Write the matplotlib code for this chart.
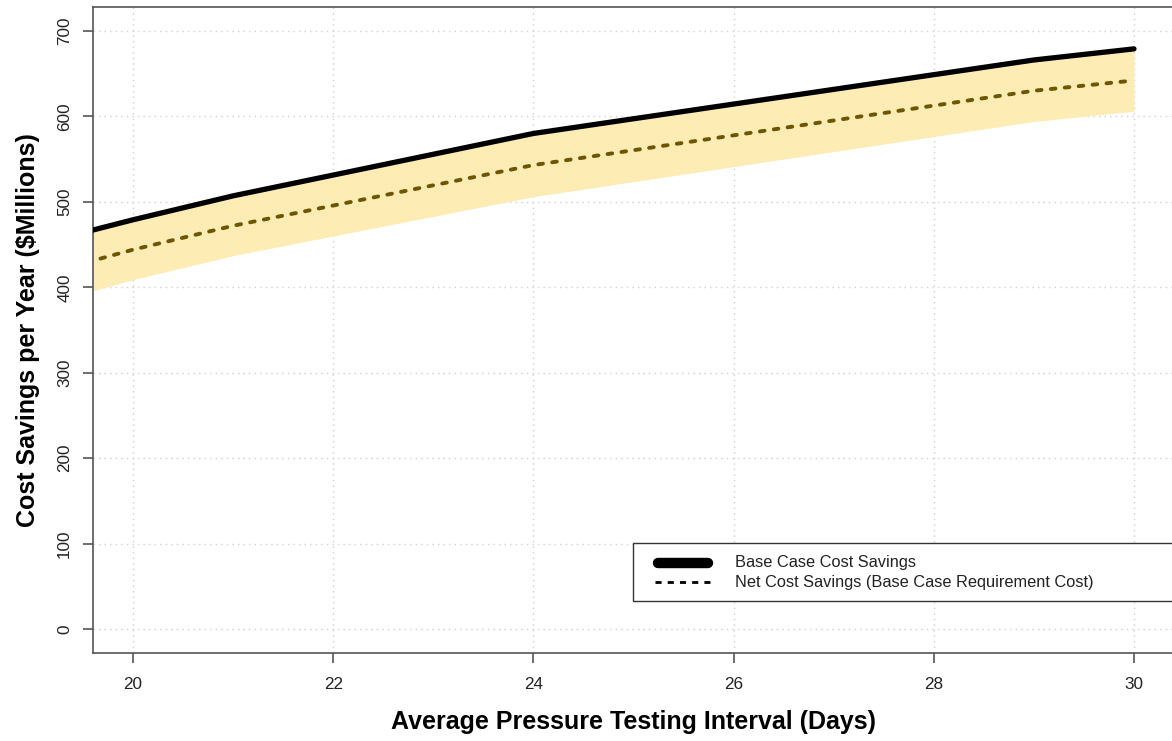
import numpy as np
import matplotlib
matplotlib.use("Agg")
import matplotlib.pyplot as plt
from matplotlib.lines import Line2D
from matplotlib.patches import Rectangle

plt.rcParams['font.family'] = ['Liberation Sans', 'DejaVu Sans']

# values
interval = [19, 20, 21, 24, 29, 30]
base_savings = [449, 479, 507, 580, 666, 679]
net_savings = [412, 444, 472, 543, 630, 642]
lower_band = [376, 409, 437, 506, 594, 606]

x_ticks = [20, 22, 24, 26, 28, 30]
y_ticks = [0, 100, 200, 300, 400, 500, 600, 700]
legend_labels = ['Base Case Cost Savings',
                 'Net Cost Savings (Base Case Requirement Cost)']

W, H = 1172, 741
fig = plt.figure(figsize=(W / 100, H / 100), dpi=100)
ax = fig.add_axes([93 / W, 1 - 653 / H, (1174 - 93) / W, (653 - 7) / H])

ax.fill_between(interval, lower_band, base_savings, color='#feecb5', lw=0, zorder=1)
ax.plot(interval, base_savings, color='black', lw=3.8, solid_capstyle='round', zorder=3)
ln, = ax.plot(interval, net_savings, color='#6e5600', lw=2.8, dash_capstyle='round',
              zorder=3)
ln.set_dashes((1.2, 2.4))

ax.set_xlim(19.6, 30.4)
ax.set_ylim(-28, 728)
ax.set_xticks(x_ticks)
ax.set_yticks(y_ticks)
ax.grid(True, color='#d0d0d0', ls=(0, (1, 3)), lw=1)
ax.set_axisbelow(True)

for s in ax.spines.values():
    s.set_color('#555555')
    s.set_linewidth(1.2)
ax.tick_params(direction='out', length=7, width=1.2, color='#555555',
               labelsize=12.3, labelcolor='#222222', pad=8)
ax.tick_params(axis='x', pad=10)
for lab in ax.get_yticklabels():
    lab.set_rotation(90)
    lab.set_va('center')

ax.set_xlabel('Average Pressure Testing Interval (Days)', fontsize=18,
              fontweight='bold', labelpad=13)
ax.set_ylabel('Cost Savings per Year ($Millions)', fontsize=18,
              fontweight='bold', labelpad=12)

# legend box drawn in figure pixels, the way R places it
def fp(x, y):
    return x / W, 1 - y / H

box = Rectangle(fp(633, 601), 600 / W, 58 / H, transform=fig.transFigure,
                facecolor='white', edgecolor='#333333', lw=1, zorder=5)
fig.patches.append(box)
l1 = Line2D(*zip(fp(658, 563), fp(708, 563)), transform=fig.transFigure,
            color='black', lw=7.5, solid_capstyle='round', zorder=6)
l2 = Line2D(*zip(fp(655, 582), fp(713, 582)), transform=fig.transFigure,
            color='black', lw=2, zorder=6)
l2.set_dashes((2.2, 2.2))
fig.lines.extend([l1, l2])
for lab, yy in zip(legend_labels, [563, 582]):
    fig.text(*fp(735, yy), lab, fontsize=11.8, color='#222222', va='center',
             ha='left', zorder=7)

fig.savefig('out.png', dpi=100)
